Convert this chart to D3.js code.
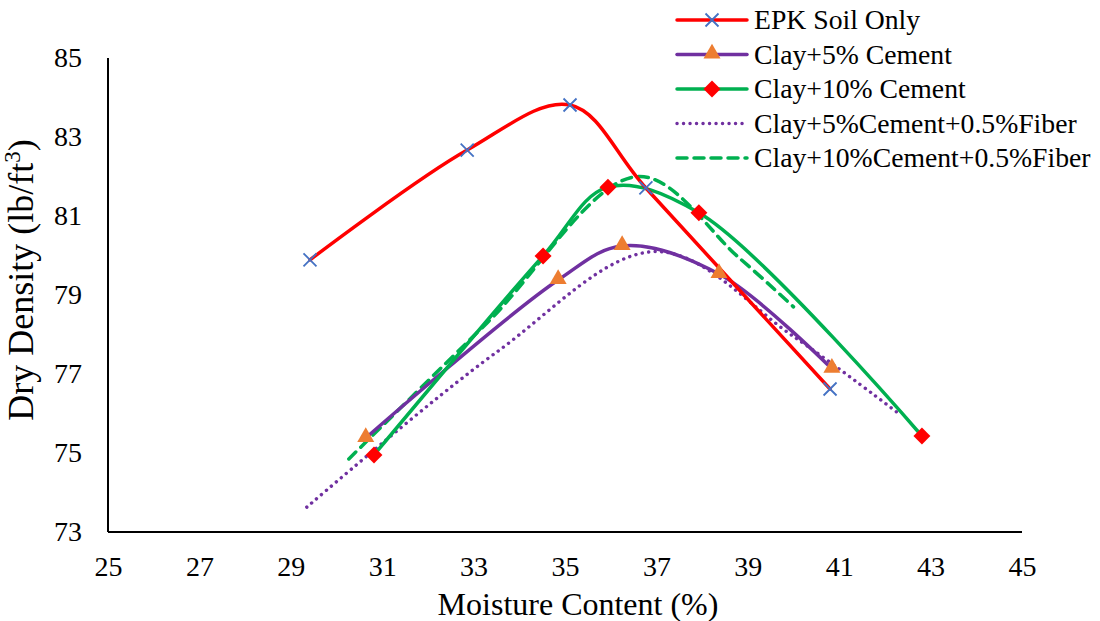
<!DOCTYPE html>
<html lang="en">
<head>
<meta charset="utf-8" />
<title>Dry density vs moisture content</title>
<script src="https://d3js.org/d3.v7.min.js"></script>
<style>
  body { margin: 0; background: #fff; }
  svg { display: block; font-family: "Liberation Serif", "Times New Roman", serif; }
  .tick text { font-size: 28px; fill: #000; }
</style>
</head>
<body>
<div id="chart"></div>
<script>
// values
var soilX = [29.42, 32.86, 35.11, 36.77, 40.80];
var soilY = [79.89, 82.67, 83.81, 81.71, 76.62];

var cem5X = [30.64, 34.85, 36.25, 38.37, 40.84];
var cem5Y = [75.38, 79.38, 80.24, 79.53, 77.13];

var cem10X = [30.82, 34.52, 35.94, 37.93, 42.81];
var cem10Y = [74.95, 79.99, 81.73, 81.08, 75.43];

var fib5X = [29.35, 33.5, 37.0, 40.0, 42.3];
var fib5Y = [73.63, 77.55, 80.1, 77.95, 76.0];

var fib10X = [30.27, 33.3, 36.6, 38.8, 40.0];
var fib10Y = [74.85, 78.3, 82.0, 79.95, 78.7];

var xTicks = [25, 27, 29, 31, 33, 35, 37, 39, 41, 43, 45];
var yTicks = [73, 75, 77, 79, 81, 83, 85];

var seriesNames = ['EPK Soil Only', 'Clay+5% Cement', 'Clay+10% Cement',
  'Clay+5%Cement+0.5%Fiber', 'Clay+10%Cement+0.5%Fiber'];

var width = 1100, height = 621;
var margin = { left: 108, right: 78, top: 58, bottom: 89 };

var svg = d3.select('#chart').append('svg')
  .attr('width', width).attr('height', height);

var x = d3.scaleLinear().domain([25, 45]).range([margin.left, width - margin.right]);
var y = d3.scaleLinear().domain([73, 85]).range([height - margin.bottom, margin.top]);

// axes
var xAxis = svg.append('g')
  .attr('transform', 'translate(0,' + y(73) + ')')
  .call(d3.axisBottom(x).tickValues(xTicks).tickSize(0).tickPadding(24));
var yAxis = svg.append('g')
  .attr('transform', 'translate(' + x(25) + ',0)')
  .call(d3.axisLeft(y).tickValues(yTicks).tickSize(0).tickPadding(26));
[xAxis, yAxis].forEach(function(a) {
  a.select('.domain').attr('stroke', '#000').attr('stroke-width', 2);
  a.selectAll('text').style('font-family', '"Liberation Serif", serif');
});
// only the two axis lines, no box
yAxis.select('.domain').attr('d', 'M0,' + y(85) + 'V' + y(73));
xAxis.select('.domain').attr('d', 'M' + x(25) + ',0H' + x(45));

// titles
svg.append('text')
  .attr('x', 578).attr('y', 615)
  .attr('text-anchor', 'middle').style('font-size', '32px')
  .text('Moisture Content (%)');

var yt = svg.append('text')
  .attr('transform', 'translate(33,280) rotate(-90)')
  .attr('text-anchor', 'middle').style('font-size', '36px');
yt.append('tspan').text('Dry Density (lb/ft');
yt.append('tspan').attr('dy', -13).style('font-size', '23px').text('3');
yt.append('tspan').attr('dy', 13).text(')');

function pairs(xs, ys) {
  return xs.map(function(v, i) { return [v, ys[i]]; });
}

var line = d3.line()
  .x(function(d) { return x(d[0]); })
  .y(function(d) { return y(d[1]); })
  .curve(d3.curveCatmullRom.alpha(0.5));

var series = [
  { name: seriesNames[0], data: pairs(soilX, soilY), color: '#FF0000', dash: null, marker: 'x' },
  { name: seriesNames[1], data: pairs(cem5X, cem5Y), color: '#7030A0', dash: null, marker: 'tri' },
  { name: seriesNames[2], data: pairs(cem10X, cem10Y), color: '#00B050', dash: null, marker: 'dia' },
  { name: seriesNames[3], data: pairs(fib5X, fib5Y), color: '#7030A0', dash: '0.1 6.4', marker: null },
  { name: seriesNames[4], data: pairs(fib10X, fib10Y), color: '#00B050', dash: '10 7', marker: null }
];

function drawMarker(g, type, cx, cy) {
  if (type === 'x') {
    g.append('path')
      .attr('d', 'M' + (cx - 6.5) + ',' + (cy - 6.5) + 'L' + (cx + 6.5) + ',' + (cy + 6.5) +
        'M' + (cx - 6.5) + ',' + (cy + 6.5) + 'L' + (cx + 6.5) + ',' + (cy - 6.5))
      .attr('stroke', '#4472C4').attr('stroke-width', 1.8).attr('fill', 'none');
  } else if (type === 'tri') {
    g.append('path')
      .attr('d', d3.symbol().type(d3.symbolTriangle).size(125)())
      .attr('transform', 'translate(' + cx + ',' + (cy - 1) + ')')
      .attr('fill', '#ED7D31');
  } else if (type === 'dia') {
    g.append('rect')
      .attr('x', -6).attr('y', -6).attr('width', 12).attr('height', 12)
      .attr('transform', 'translate(' + cx + ',' + cy + ') rotate(45)')
      .attr('fill', '#FF0000');
  }
}

// draw dashed/dotted first, then solid lines
var order = [3, 4, 1, 2, 0];
order.forEach(function(i) {
  var s = series[i];
  svg.append('path')
    .datum(s.data)
    .attr('d', line)
    .attr('fill', 'none')
    .attr('stroke', s.color)
    .attr('stroke-width', i === 3 ? 3.4 : 3.5)
    .attr('stroke-linecap', 'round')
    .attr('stroke-dasharray', s.dash);
});
order.forEach(function(i) {
  var s = series[i];
  if (!s.marker) return;
  var g = svg.append('g');
  s.data.forEach(function(d) { drawMarker(g, s.marker, x(d[0]), y(d[1])); });
});

// legend
var legend = svg.append('g').attr('transform', 'translate(677,20)');
series.forEach(function(s, i) {
  var g = legend.append('g').attr('transform', 'translate(0,' + (i * 34.5) + ')');
  g.append('line')
    .attr('x1', 0).attr('x2', 70).attr('y1', 0).attr('y2', 0)
    .attr('stroke', s.color).attr('stroke-width', i === 3 ? 3.4 : 3.5)
    .attr('stroke-linecap', 'round')
    .attr('stroke-dasharray', s.dash);
  if (s.marker) drawMarker(g, s.marker, 35, 0);
  g.append('text')
    .attr('x', 77).attr('y', 9)
    .style('font-size', '27.7px')
    .text(s.name);
});
</script>
</body>
</html>
